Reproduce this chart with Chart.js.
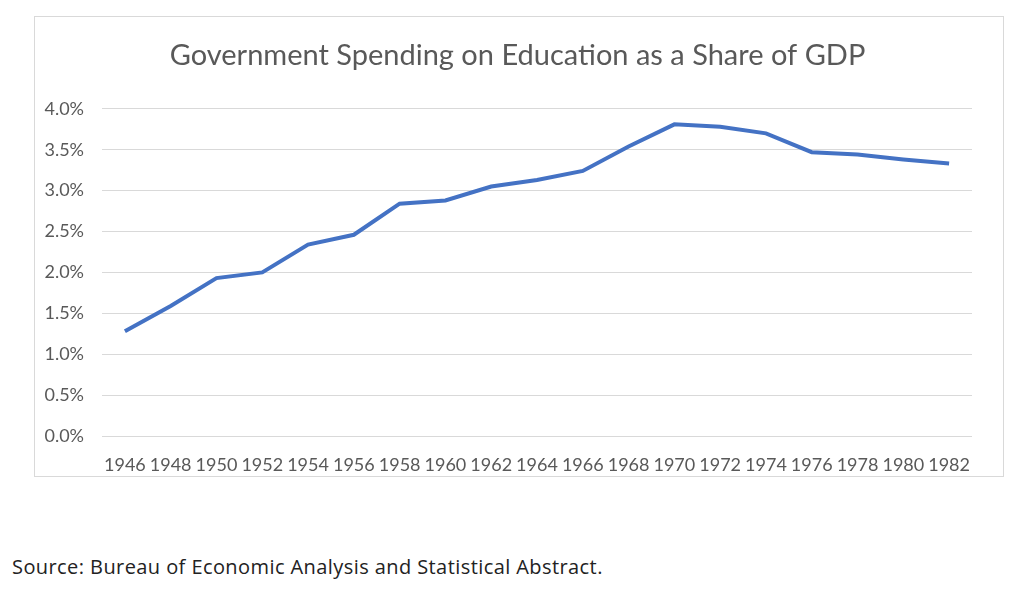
<!DOCTYPE html>
<html>
<head>
<meta charset="utf-8">
<script src="https://cdn.jsdelivr.net/npm/chart.js@4"></script>
<style>
  html, body { margin: 0; padding: 0; background: #fff; }
  body { width: 1024px; height: 589px; position: relative; overflow: hidden; }
  #box { position: absolute; left: 34px; top: 16px; width: 970px; height: 461px; border: 1px solid #d9d9d9; box-sizing: border-box; }
  #box canvas { display: block; }
  #source { position: absolute; left: 12px; top: 553px; font-family: "Open Sans", sans-serif; font-size: 20px; color: #222; white-space: nowrap; letter-spacing: 0.42px; }
</style>
</head>
<body>
<div id="box"><canvas id="c"></canvas></div>
<div id="source">Source: Bureau of Economic Analysis and Statistical Abstract.</div>
<script>
const years = ["1946","1948","1950","1952","1954","1956","1958","1960","1962","1964","1966","1968","1970","1972","1974","1976","1978","1980","1982"];
const sharePct = [1.28,1.59,1.93,2.00,2.34,2.46,2.84,2.88,3.05,3.13,3.24,3.54,3.81,3.78,3.70,3.47,3.44,3.38,3.33];
const chartTitle = "Government Spending on Education as a Share of GDP";

const cv = document.getElementById('c');
cv.width = 968; cv.height = 459;
cv.style.width = '968px'; cv.style.height = '459px';

new Chart(cv, {
  type: 'line',
  data: {
    labels: years,
    datasets: [{
      data: sharePct,
      borderColor: '#4472C4',
      borderWidth: 4,
      pointRadius: 0,
      tension: 0,
      fill: false
    }]
  },
  options: {
    responsive: false,
    animation: false,
    devicePixelRatio: 1,
    layout: { padding: { left: 0, right: 3, top: 0, bottom: 0 } },
    plugins: {
      legend: { display: false },
      tooltip: { enabled: false },
      title: {
        display: true,
        text: chartTitle,
        color: '#595959',
        font: { family: 'Lato', size: 29, weight: 'normal' },
        padding: { top: 21, bottom: 36 }
      }
    },
    scales: {
      x: {
        offset: true,
        afterFit: (s) => { s.height = 40; },
        grid: { display: false, drawTicks: false },
        border: { display: false },
        ticks: {
          color: '#595959',
          font: { family: 'Lato', size: 18 },
          padding: 18,
          maxRotation: 0,
          autoSkip: false
        }
      },
      y: {
        min: 0,
        max: 4,
        afterFit: (s) => { s.width = 67; },
        grid: { color: '#d9d9d9', lineWidth: 1, drawTicks: false },
        border: { display: false },
        ticks: {
          stepSize: 0.5,
          color: '#595959',
          font: { family: 'Lato', size: 18 },
          padding: 18,
          callback: (v) => Number(v).toFixed(1) + '%'
        }
      },
      yRight: {
        position: 'right',
        display: true,
        afterFit: (s) => { s.width = 28; },
        grid: { display: false, drawTicks: false },
        border: { display: false },
        ticks: { display: false }
      }
    }
  }
});
</script>
</body>
</html>
